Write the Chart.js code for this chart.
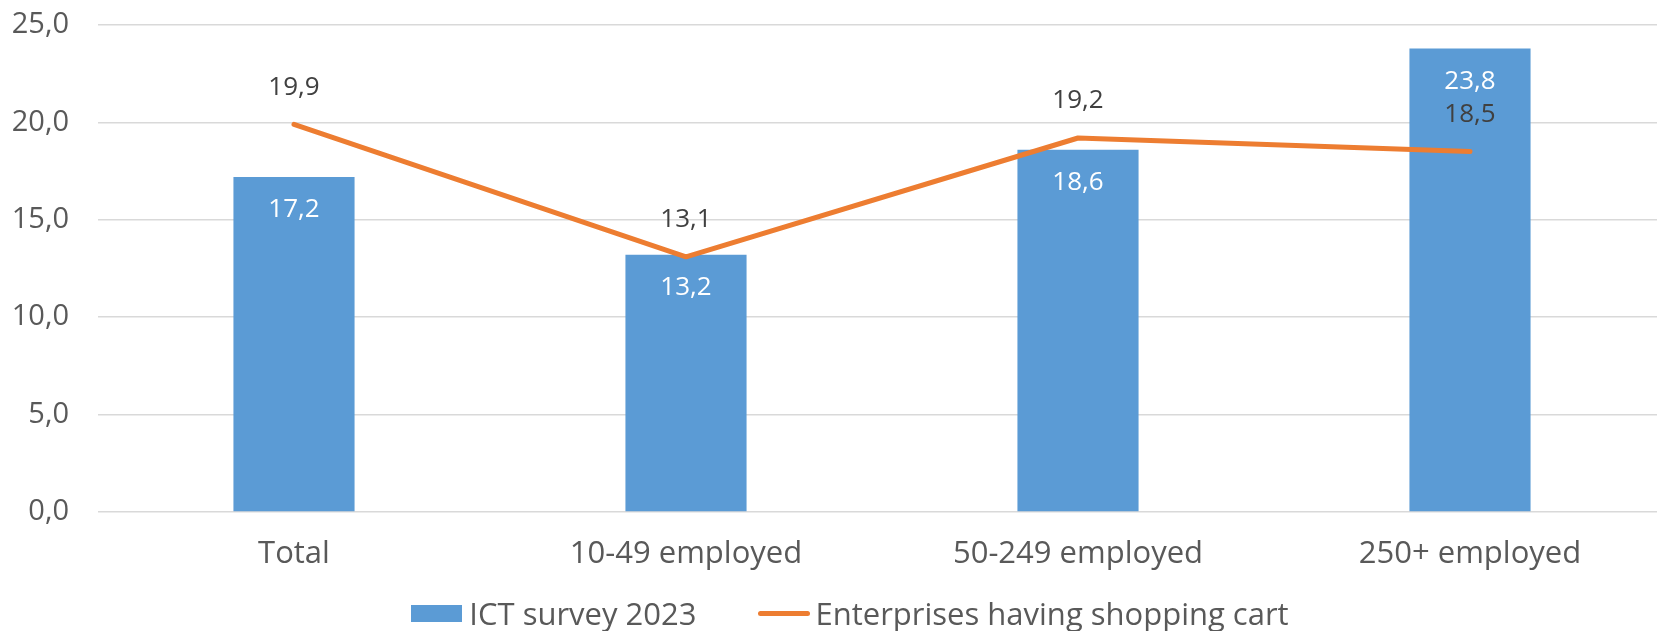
<!DOCTYPE html>
<html>
<head>
<meta charset="utf-8">
<script src="https://cdn.jsdelivr.net/npm/chart.js@4.4.1/dist/chart.umd.min.js"></script>
<style>
  html, body { margin: 0; padding: 0; background: #fff; overflow: hidden; }
  #wrap { position: relative; width: 1686px; height: 631px; }
  #legend {
    position: absolute; left: 0; top: 597px; width: 1700px; height: 32px;
    display: flex; justify-content: center; align-items: center;
    font-family: "Open Sans", sans-serif; font-size: 31px; color: #595959;
  }
  .item { display: flex; align-items: center; }
  .item + .item { margin-left: 62px; }
  .swatch-bar { width: 51px; height: 17px; background: #5B9BD5; margin-right: 7px; }
  .swatch-line { width: 52px; height: 5px; border-radius: 3px; background: #ED7D31; margin-right: 5px; }
</style>
</head>
<body>
<div id="wrap">
  <canvas id="chart"></canvas>
  <div id="legend">
    <div class="item"><span class="swatch-bar"></span><span>ICT survey 2023</span></div>
    <div class="item"><span class="swatch-line"></span><span>Enterprises having shopping cart</span></div>
  </div>
</div>
<script>
// --- DATOS ---
const categories = ["Total", "10-49 employed", "50-249 employed", "250+ employed"];
const ictSurvey2023 = [17.2, 13.2, 18.6, 23.8];
const shoppingCart = [19.9, 13.1, 19.2, 18.5];
const yTicks = [0, 5, 10, 15, 20, 25];

// --- HELPERS ---
const fmt = (v) => Number(v).toFixed(1).replace(".", ",");

// etiquetas de valor: dentro de la barra (blanco) y sobre la línea (gris oscuro)
const valueLabels = {
  id: "valueLabels",
  afterDatasetsDraw(chart) {
    const ctx = chart.ctx;
    ctx.save();
    ctx.font = '26px "Open Sans", sans-serif';
    ctx.textAlign = "center";
    ctx.textBaseline = "middle";
    chart.data.datasets.forEach((ds, i) => {
      const meta = chart.getDatasetMeta(i);
      meta.data.forEach((el, j) => {
        if (ds.type === "bar") {
          ctx.fillStyle = "#ffffff";
          ctx.fillText(fmt(ds.data[j]), el.x, el.y + 33);
        } else {
          ctx.fillStyle = "#404040";
          ctx.fillText(fmt(ds.data[j]), el.x, el.y - 37);
        }
      });
    });
    ctx.restore();
  }
};

const canvas = document.getElementById("chart");
canvas.width = 1686;
canvas.height = 631;

new Chart(canvas.getContext("2d"), {
  data: {
    labels: categories,
    datasets: [
      {
        type: "line",
        label: "Enterprises having shopping cart",
        data: shoppingCart,
        borderColor: "#ED7D31",
        backgroundColor: "#ED7D31",
        borderWidth: 5,
        borderCapStyle: "round",
        borderJoinStyle: "round",
        pointRadius: 0,
        tension: 0,
        order: 0
      },
      {
        type: "bar",
        label: "ICT survey 2023",
        data: ictSurvey2023,
        backgroundColor: "#5B9BD5",
        barPercentage: 0.309,
        categoryPercentage: 1,
        order: 1
      }
    ]
  },
  plugins: [valueLabels],
  options: {
    responsive: false,
    animation: false,
    layout: { padding: { top: 25, left: 12, right: 20, bottom: 59 } },
    plugins: { legend: { display: false }, tooltip: { enabled: false } },
    scales: {
      x: {
        grid: { display: false, drawTicks: false },
        border: { display: false },
        afterFit: (axis) => { axis.height = 60; },
        ticks: {
          padding: 24,
          color: "#595959",
          font: { family: "Open Sans", size: 31 }
        }
      },
      y: {
        min: yTicks[0],
        max: yTicks[yTicks.length - 1],
        afterBuildTicks: (axis) => { axis.ticks = yTicks.map((v) => ({ value: v })); },
        afterFit: (axis) => {
          axis.width = 86;
          axis.paddingTop = 0;
          axis.paddingBottom = 0;
        },
        grid: { color: "#d9d9d9", lineWidth: 1.5, drawTicks: false },
        border: { display: false },
        ticks: {
          padding: 29,
          color: "#595959",
          font: { family: "Open Sans", size: 29 },
          callback: (v) => fmt(v)
        }
      }
    }
  }
});
</script>
</body>
</html>
